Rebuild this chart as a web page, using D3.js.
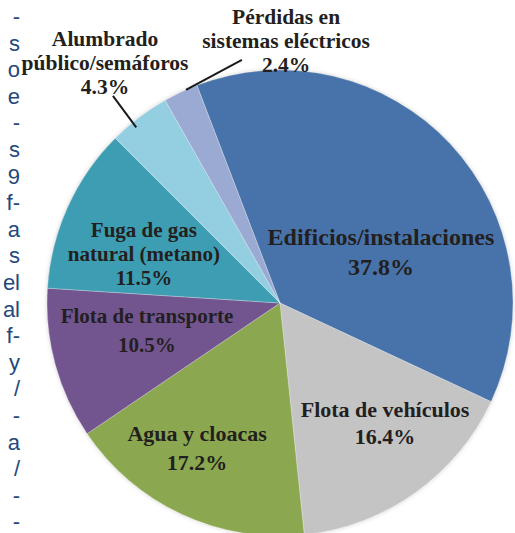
<!DOCTYPE html>
<html>
<head>
<meta charset="utf-8">
<script src="https://cdn.jsdelivr.net/npm/d3@7"></script>
<style>
  html, body { margin: 0; padding: 0; background: #fff; }
  svg { display: block; }
</style>
</head>
<body>
<div id="chart"></div>
<script>
// slice data (percent), in drawing order, clockwise
var categories = ["Edificios/instalaciones", "Flota de vehículos", "Agua y cloacas",
  "Flota de transporte", "Fuga de gas natural (metano)", "Alumbrado público/semáforos",
  "Pérdidas en sistemas eléctricos"];
var values = [37.8, 16.4, 17.2, 10.5, 11.5, 4.3, 2.4];
var colors = ["#4673aa", "#c4c4c4", "#8ba74f", "#72558f", "#3e9db2", "#93cfe1", "#9baad3"];
var labelLines = [
  ["Edificios/instalaciones"],
  ["Flota de vehículos"],
  ["Agua y cloacas"],
  ["Flota de transporte"],
  ["Fuga de gas", "natural (metano)"],
  ["Alumbrado", "público/semáforos"],
  ["Pérdidas en", "sistemas eléctricos"]
];
// fragments of the page text cut off at the left edge
var sideText = ["-", "s", "o", "e", "-", "s", "9", "f-", "a", "s", "el", "al", "f-", "y", "/", "-", "a", "/", "-", "-"];

var width = 515, height = 533;
var cx = 280, cy = 303, R = 233;
var startDeg = -20.9;

// label block centres relative to pie centre, in radius units; line gap; font size
var labelPos = [[0.433, -0.219], [0.451, 0.517], [-0.356, 0.624], [-0.571, 0.118],
  [-0.584, -0.212], [-0.751, -1.030], [0.026, -1.125]];
var lineGap = [30, 27, 29, 29, 24, 24, 24];
var fontSize = [24, 22, 22, 21, 21, 21.5, 21.5];
// leader lines: [slice, inner r, inner angle, outer r, outer angle]
var leaders = [[5, 0.974, -39.3, 1.142, -38.9], [6, 1.0, -23.8, 1.056, -8.9]];

var svg = d3.select("#chart").append("svg")
    .attr("width", width)
    .attr("height", height);

var defs = svg.append("defs");
var f = defs.append("filter").attr("id", "soft")
    .attr("x", "-10%").attr("y", "-10%").attr("width", "120%").attr("height", "120%");
f.append("feGaussianBlur").attr("in", "SourceAlpha").attr("stdDeviation", 2).attr("result", "b");
f.append("feFlood").attr("flood-color", "#999").attr("flood-opacity", 0.45);
f.append("feComposite").attr("in2", "b").attr("operator", "in").attr("result", "s");
var fm = f.append("feMerge");
fm.append("feMergeNode").attr("in", "s");
fm.append("feMergeNode").attr("in", "SourceGraphic");

// side text column
svg.append("g")
  .selectAll("text")
  .data(sideText)
  .join("text")
    .attr("x", 20)
    .attr("y", (d, i) => 24 + i * 26.6)
    .attr("text-anchor", "end")
    .attr("font-family", "'Liberation Sans', Arial, sans-serif")
    .attr("font-size", 22)
    .attr("fill", "#24487e")
    .text(d => d);

var rad = Math.PI / 180;
var pie = d3.pie().sort(null)
    .startAngle(startDeg * rad)
    .endAngle(startDeg * rad + 2 * Math.PI);
var arc = d3.arc().innerRadius(0).outerRadius(R);

var arcs = pie(values);

var g = svg.append("g").attr("transform", "translate(" + cx + "," + cy + ")");

g.append("g")
    .attr("filter", "url(#soft)")
  .selectAll("path")
  .data(arcs)
  .join("path")
    .attr("d", arc)
    .attr("fill", (d, i) => colors[i])
    .attr("stroke", "rgba(255,255,255,0.35)")
    .attr("stroke-width", 0.8);

// leader lines
function polar(r, deg) {
  return [R * r * Math.sin(deg * rad), -R * r * Math.cos(deg * rad)];
}
g.append("g")
  .selectAll("line")
  .data(leaders)
  .join("line")
    .attr("x1", d => polar(d[1], d[2])[0])
    .attr("y1", d => polar(d[1], d[2])[1])
    .attr("x2", d => polar(d[3], d[4])[0])
    .attr("y2", d => polar(d[3], d[4])[1])
    .attr("stroke", "#1a1a1a")
    .attr("stroke-width", 2);

// labels
var lab = g.append("g")
  .selectAll("text")
  .data(arcs)
  .join("text")
    .attr("text-anchor", "middle")
    .attr("font-family", "'Liberation Serif', 'Times New Roman', serif")
    .attr("font-weight", "bold")
    .attr("font-size", (d, i) => fontSize[i])
    .attr("fill", "#231f20");

lab.each(function(d, i) {
  var lines = labelLines[i].concat([d3.format(".1f")(values[i]) + "%"]);
  var n = lines.length;
  var x = labelPos[i][0] * R, yc = labelPos[i][1] * R;
  var y0 = yc - (n - 1) * lineGap[i] / 2 + fontSize[i] * 0.33;
  d3.select(this).selectAll("tspan")
    .data(lines)
    .join("tspan")
      .attr("x", x)
      .attr("y", (t, j) => y0 + j * lineGap[i])
      .text(t => t);
});
</script>
</body>
</html>
